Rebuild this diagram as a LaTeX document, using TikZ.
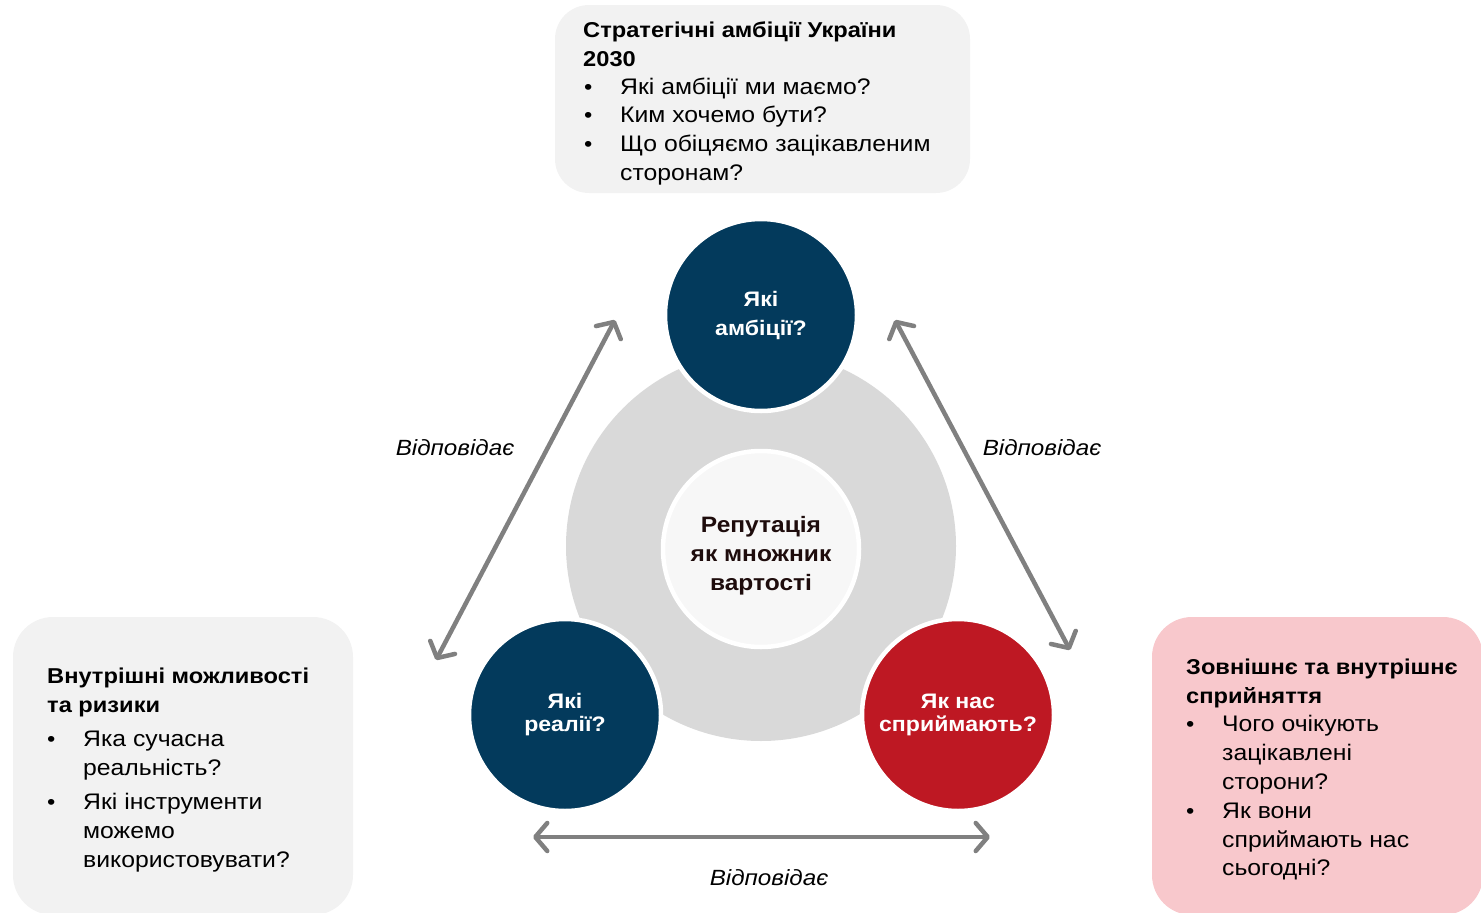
\documentclass[tikz,border=0pt]{standalone}
\usepackage{fontspec}
\setmainfont{Liberation Sans}[FakeStretch=1.1]
\usetikzlibrary{arrows.meta}
\definecolor{boxgray}{HTML}{F2F2F2}
\definecolor{boxpink}{HTML}{F8C8CC}
\definecolor{ringgray}{HTML}{D9D9D9}
\definecolor{coregray}{HTML}{F7F7F7}
\definecolor{navy}{HTML}{033A5C}
\definecolor{crimson}{HTML}{BE1823}
\definecolor{arrowgray}{HTML}{808080}
\definecolor{coretext}{HTML}{1E0C0C}
\tikzset{
  panel/.style={rectangle, rounded corners=34, inner sep=0, draw=none},
  bubble/.style={circle, inner sep=0, minimum size=192, draw=white, line width=4.5, text=white, align=center, font=\bfseries\fontsize{21}{29}\selectfont},
  title/.style={anchor=base west, inner sep=0, font=\bfseries\fontsize{21.5}{29}\selectfont},
  body/.style={anchor=base west, inner sep=0, font=\fontsize{22.5}{29}\selectfont},
  dot/.style={anchor=base west, inner sep=0, font=\fontsize{21.5}{29}\selectfont},
  relation/.style={inner sep=0, font=\itshape\fontsize{22}{29}\selectfont},
  link/.style={draw=arrowgray, line width=4.5, line cap=round, {Straight Barb[length=12, width=28, line cap=round, line join=round]}-{Straight Barb[length=12, width=28, line cap=round, line join=round]}}
}
\begin{document}
\begin{tikzpicture}[x=1pt, y=-1pt]
\useasboundingbox (0,0) rectangle (1481,913);

% panels
\node[panel, fill=boxgray, minimum width=415, minimum height=188] (toppanel) at (762.5,99) {};
\node[panel, fill=boxgray, minimum width=340, minimum height=298, rounded corners=40] (leftpanel) at (183,766) {};
\node[panel, fill=boxpink, minimum width=331, minimum height=298, rounded corners=40] (rightpanel) at (1317.5,766) {};

% top panel text
\node[title] (tt1) at (583,37) {Стратегічні амбіції України};
\node[title] (tt2) at (583,66) {2030};
\node[dot] (tb1) at (584,94) {•};
\node[body] (tl1) at (620,94) {Які амбіції ми маємо?};
\node[dot] (tb2) at (584,122) {•};
\node[body] (tl2) at (620,122) {Ким хочемо бути?};
\node[dot] (tb3) at (584,151) {•};
\node[body] (tl3) at (620,151) {Що обіцяємо зацікавленим};
\node[body] (tl4) at (620,180) {сторонам?};

% left panel text
\node[title] (lt1) at (47,683) {Внутрішні можливості};
\node[title] (lt2) at (47,712) {та ризики};
\node[dot] (lb1) at (47,746) {•};
\node[body] (ll1) at (83,746) {Яка сучасна};
\node[body] (ll2) at (83,775) {реальність?};
\node[dot] (lb2) at (47,809) {•};
\node[body] (ll3) at (83,809) {Які інструменти};
\node[body] (ll4) at (83,838) {можемо};
\node[body] (ll5) at (83,867) {використовувати?};

% right panel text
\node[title] (rt1) at (1186,674) {Зовнішнє та внутрішнє};
\node[title] (rt2) at (1186,703) {сприйняття};
\node[dot] (rb1) at (1186,731) {•};
\node[body] (rl1) at (1222,731) {Чого очікують};
\node[body] (rl2) at (1222,760) {зацікавлені};
\node[body] (rl3) at (1222,789) {сторони?};
\node[dot] (rb2) at (1186,818) {•};
\node[body] (rl4) at (1222,818) {Як вони};
\node[body] (rl5) at (1222,847) {сприймають нас};
\node[body] (rl6) at (1222,875) {сьогодні?};

% central discs
\node[circle, fill=ringgray, minimum size=390, inner sep=0] (ring) at (761,546) {};
\node[circle, fill=coregray, draw=white, line width=4.5, minimum size=196, inner sep=0] (core) at (761,549) {};
\node[text=coretext, align=center, inner sep=0, font=\bfseries\fontsize{22.3}{29}\selectfont] (corelabel) at (761,556) {Репутація\\як множник\\вартості};

\node[bubble, fill=navy] (ambition) at (761,315) {Які\\амбіції?};
\node[bubble, fill=navy, font=\bfseries\fontsize{21}{23}\selectfont] (reality) at (565,715) {Які\\реалії?};
\node[bubble, fill=crimson, font=\bfseries\fontsize{21}{23}\selectfont] (perception) at (958,715) {Як нас\\сприймають?};

% connectors
\coordinate (la) at (615,320);
\coordinate (lb) at (436,660);
\coordinate (ra) at (895,320);
\coordinate (rb) at (1070,650);
\coordinate (ba) at (533,837);
\coordinate (bb) at (990,837);
\draw[link] (la) -- (lb);
\draw[link] (ra) -- (rb);
\draw[link] (ba) -- (bb);

\node[relation] (rel1) at (455,448) {Відповідає};
\node[relation] (rel2) at (1042,448) {Відповідає};
\node[relation] (rel3) at (769,878) {Відповідає};
\end{tikzpicture}
\end{document}
